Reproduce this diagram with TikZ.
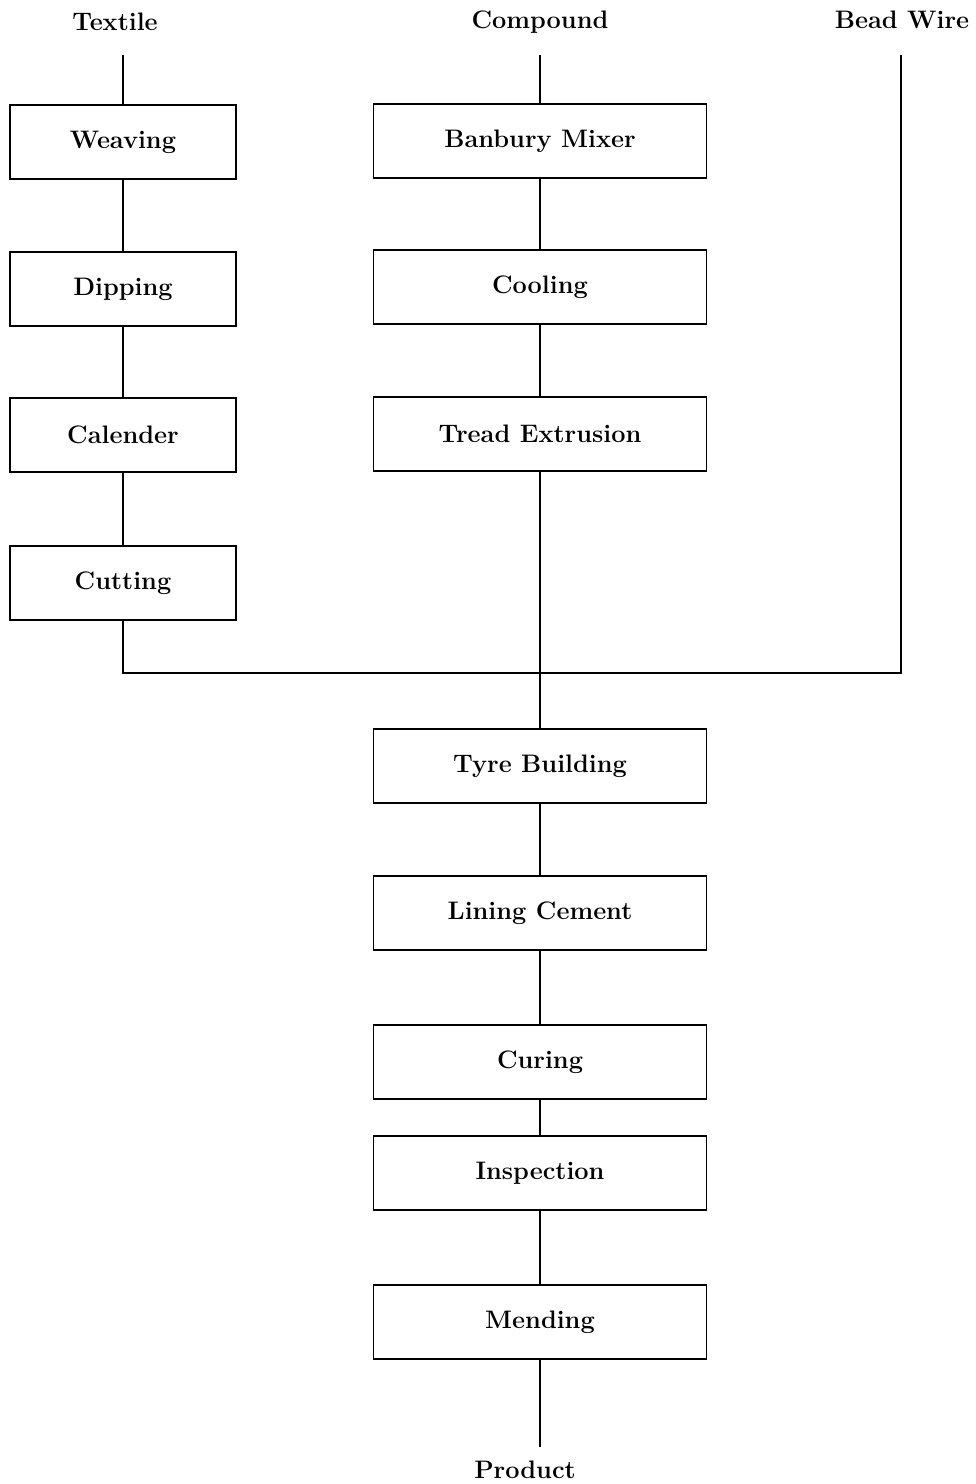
\documentclass[tikz,border=0pt]{standalone}
\begin{document}
\begin{tikzpicture}[line width=1pt,
  stage/.style={draw,minimum height=1.49cm,font=\Large\bfseries,inner sep=0pt},
  leftstage/.style={stage,minimum width=4.52cm},
  midstage/.style={stage,minimum width=6.66cm},
  source/.style={font=\Large\bfseries}]
\useasboundingbox (0,0) rectangle (19.5,-29.68);
% sources and product
\node[source] (textile) at (2.30,-0.44) {Textile};
\node[source] (compound) at (10.80,-0.44) {Compound};
\node[source] (bead) at (18.04,-0.40) {Bead Wire};
\node[source] (product) at (10.50,-29.40) {Product};
% textile line
\node[leftstage] (weave) at (2.46,-2.84) {Weaving};
\node[leftstage] (dip) at (2.46,-5.78) {Dipping};
\node[leftstage] (cal) at (2.46,-8.70) {Calender};
\node[leftstage] (cut) at (2.46,-11.66) {Cutting};
% compound line
\node[midstage] (mix) at (10.80,-2.82) {Banbury Mixer};
\node[midstage] (cool) at (10.80,-5.74) {Cooling};
\node[midstage] (tread) at (10.80,-8.68) {Tread Extrusion};
% assembly
\node[midstage] (build) at (10.80,-15.32) {Tyre Building};
\node[midstage] (lining) at (10.80,-18.26) {Lining Cement};
\node[midstage] (cure) at (10.80,-21.24) {Curing};
\node[midstage] (insp) at (10.80,-23.46) {Inspection};
\node[midstage] (mend) at (10.80,-26.44) {Mending};
% free ends of the lines
\coordinate (textin) at (2.46,-1.10);
\coordinate (compin) at (10.80,-1.10);
\coordinate (beadin) at (18.02,-1.10);
\coordinate (join) at (10.80,-13.46);
\coordinate (out) at (10.80,-28.94);
\draw (textin) -- (weave) -- (dip) -- (cal) -- (cut);
\draw (compin) -- (mix) -- (cool) -- (tread) -- (build);
\draw (cut.south) |- (join);
\draw (beadin) |- (join);
\draw (build) -- (lining) -- (cure) -- (insp) -- (mend) -- (out);
\end{tikzpicture}
\end{document}
